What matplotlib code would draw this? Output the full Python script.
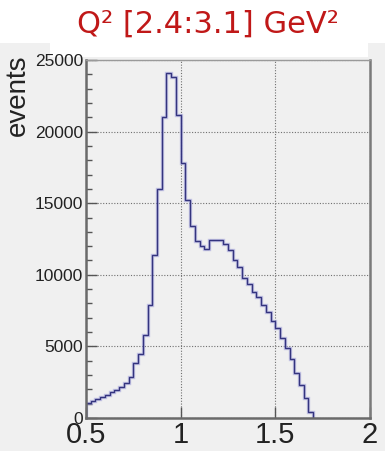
import numpy as np
import matplotlib.pyplot as plt
from matplotlib.patches import Rectangle

# histogram: lower bin edges (width 0.025) and counts
bin_width = 0.025
bin_lo = np.arange(0.5, 1.7, bin_width)
counts = [1030, 1190, 1300, 1450, 1610, 1800, 1960, 2190, 2470, 2840,
          3820, 4480, 5780, 7900, 11370, 16000, 21000, 24100, 23800, 21150,
          17800, 15250, 13380, 12330, 11980, 11800, 12400, 12400, 12450, 12150,
          11750, 11050, 10550, 9750, 9370, 8830, 8480, 7900, 7430, 6800,
          6270, 5600, 4870, 4100, 3125, 2280, 1380, 400]

xticks = [0.5, 1, 1.5, 2]
xticklabels = ['0.5', '1', '1.5', '2']
yticks = [0, 5000, 10000, 15000, 20000, 25000]

bg = '#f0f0f0'
line_col = '#34347e'
narrow = ['Liberation Sans Narrow', 'Liberation Sans']

fig = plt.figure(figsize=(3.85, 4.51), dpi=100)
fig.patch.set_facecolor('white')
# grey canvas with a white title box on top
fig.patches.append(Rectangle((0, 0), 1, 1 - 43 / 451, transform=fig.transFigure,
                             facecolor=bg, edgecolor='none', zorder=-10))
fig.patches.append(Rectangle((50 / 385, 1 - 57 / 451), 318 / 385, 57 / 451,
                             transform=fig.transFigure, facecolor='white',
                             edgecolor='none', zorder=-9))

ax = fig.add_axes([86 / 385, 33 / 451, 284 / 385, 358 / 451])
ax.set_facecolor(bg)

edges = np.append(bin_lo, bin_lo[-1] + bin_width)
ax.stairs(counts, edges, color='#9a9ad8', linewidth=2.4, alpha=0.55)
ax.stairs(counts, edges, color=line_col, linewidth=1.0)

ax.set_xlim(0.5, 2)
ax.set_ylim(0, 25000)
ax.set_xticks(xticks)
ax.set_xticklabels(xticklabels, family=narrow, fontsize=21)
ax.set_yticks(yticks)
ax.set_yticklabels([str(v) for v in yticks], family=narrow, fontsize=12.5)
ax.set_yticks(np.arange(0, 25001, 1000), minor=True)
ax.tick_params(axis='both', which='both', direction='in', colors='#555555',
               labelcolor='#222222')
ax.tick_params(axis='y', which='major', length=8, width=1, pad=2)
ax.tick_params(axis='y', which='minor', length=4, width=1)
ax.tick_params(axis='x', which='major', length=8, width=1, pad=2)

ax.grid(True, which='major', color='#707070', linestyle=(0, (1, 1.5)), linewidth=0.8)
ax.set_axisbelow(True)

for side in ['left', 'bottom']:
    ax.spines[side].set_color('#6a6a6a')
    ax.spines[side].set_linewidth(1.8)
ax.spines['right'].set_color('#7a7a7a')
ax.spines['right'].set_linewidth(1.8)
ax.spines['top'].set_color('#9a9a9a')
ax.spines['top'].set_linewidth(1.0)

ax.set_ylabel('events', family='Liberation Sans', fontsize=20, color='#222222')
ax.yaxis.set_label_coords(-0.193, 1.014)
ax.yaxis.label.set_horizontalalignment('right')

fig.text(208 / 385, 1 - 24 / 451, 'Q² [2.4:3.1] GeV²', color='#c01818',
         fontsize=22, ha='center', va='center', family='DejaVu Sans')

fig.savefig('out.png', dpi=100, facecolor=fig.get_facecolor())
